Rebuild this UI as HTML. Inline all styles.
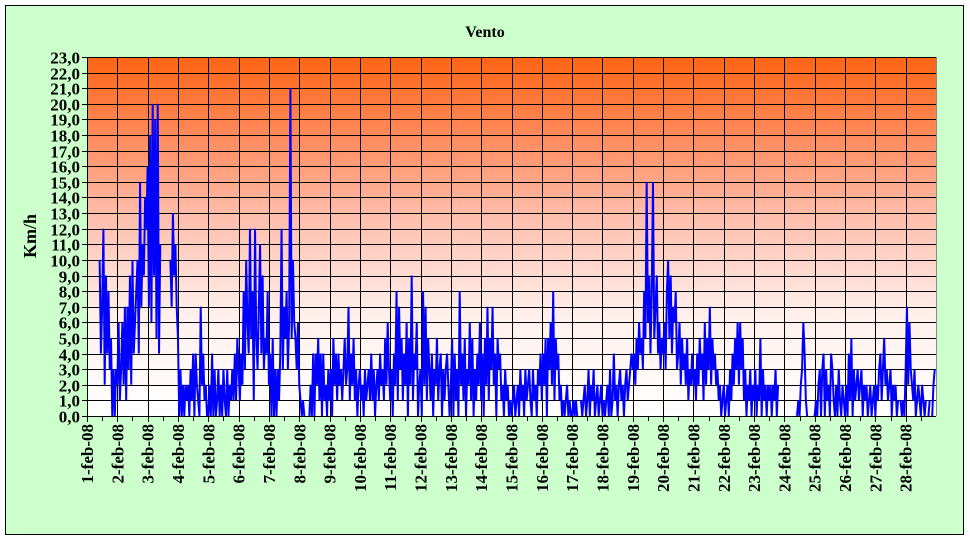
<!DOCTYPE html>
<html><head><meta charset="utf-8"><style>
body{margin:0;background:#fff;}
svg{display:block;font-family:"Liberation Serif",serif;}
</style></head><body>
<svg width="970" height="539" viewBox="0 0 970 539">
<defs>
<linearGradient id="bg" x1="0" y1="0" x2="0" y2="1">
<stop offset="0" stop-color="#ff6414"/>
<stop offset="0.22" stop-color="#ff8a5c"/>
<stop offset="0.45" stop-color="#ffbfae"/>
<stop offset="0.72" stop-color="#fff0ec"/>
<stop offset="1" stop-color="#ffffff"/>
</linearGradient>
</defs>
<rect x="5.5" y="5.5" width="958" height="529" fill="#ccffcc" stroke="#000" stroke-width="1"/>
<text x="485" y="37" text-anchor="middle" font-weight="bold" font-size="16">Vento</text>
<text transform="translate(36,236) rotate(-90)" text-anchor="middle" font-weight="bold" font-size="18">Km/h</text>
<rect x="87" y="57" width="849" height="359" fill="url(#bg)"/>
<g id="grid"></g>
<g id="series"></g>
<line x1="936.5" y1="57" x2="936.5" y2="416" stroke="#888"/>
<g id="axes"></g>
</svg>
<script>
const dayLabels = ["1-feb-08","2-feb-08","3-feb-08","4-feb-08","5-feb-08","6-feb-08","7-feb-08","8-feb-08","9-feb-08","10-feb-08","11-feb-08","12-feb-08","13-feb-08","14-feb-08","15-feb-08","16-feb-08","17-feb-08","18-feb-08","19-feb-08","20-feb-08","21-feb-08","22-feb-08","23-feb-08","24-feb-08","25-feb-08","26-feb-08","27-feb-08","28-feb-08"];
const yTicks = [0,1,2,3,4,5,6,7,8,9,10,11,12,13,14,15,16,17,18,19,20,21,22,23];
const N = null;
const windDays = [
[N,N,N,N,N,N,N,N,N,N,10,4,7,12,2,9,4,8,3,5,0,3,0,3],
[2,6,1,3,6,2,7,1,7,3,9,2,10,4,6,8,10,4,15,7,11,9,14,12],
[16,7,18,6,20,9,19,5,20,4,11,N,N,N,N,N,N,N,10,7,13,9,11,7],
[5,0,3,0,2,0,2,1,2,0,3,1,4,0,4,2,1,0,7,2,4,1,2,0],
[0,2,0,4,0,3,0,1,3,0,2,0,3,1,0,3,0,2,1,3,1,4,1,5],
[3,1,4,2,8,3,10,6,4,12,5,8,1,12,5,3,7,11,4,9,3,5,4,8],
[2,4,0,5,0,3,0,3,1,4,12,3,7,5,8,3,6,21,5,10,6,5,3,6],
[2,1,0,1,0,N,N,N,0,2,0,4,0,4,2,5,1,4,0,4,1,2,0,3],
[1,3,0,5,2,4,1,4,2,3,1,3,5,2,3,7,1,4,2,5,1,3,0,2],
[3,1,2,0,3,1,2,3,1,4,1,3,0,2,3,1,4,2,3,1,5,2,6,3],
[1,3,0,4,2,8,1,7,3,5,1,4,2,6,0,5,2,9,1,4,3,6,0,2],
[3,0,8,2,7,1,5,3,1,4,0,3,2,5,1,3,4,0,3,1,3,4,2,0],
[2,5,0,4,1,3,0,8,2,4,1,5,0,3,2,6,1,5,0,3,1,4,2,6],
[1,4,0,5,2,7,1,5,3,7,2,4,0,5,3,4,1,2,0,3,1,2,0,1],
[0,1,2,0,1,2,0,3,1,2,0,3,1,2,3,1,0,3,1,2,0,3,2,4],
[1,4,2,5,0,5,3,6,2,8,1,5,3,4,1,2,0,1,0,1,2,0,1,0],
[0,1,0,1,0,N,N,1,0,1,2,0,1,3,0,2,1,3,0,1,2,0,1,2],
[0,1,0,1,2,0,3,0,1,4,1,2,0,2,3,1,2,0,2,3,1,2,3,4],
[3,4,2,5,3,6,4,5,3,8,5,15,6,9,4,8,15,5,7,9,4,6,3,5],
[4,6,3,8,10,5,9,4,7,6,8,3,4,6,2,5,3,4,2,5,1,3,2,4],
[2,3,1,4,2,5,3,4,1,6,2,5,3,7,2,5,3,4,2,3,1,2,0,1],
[2,0,1,2,0,3,1,4,2,5,3,6,2,6,3,5,1,3,0,2,1,3,0,2],
[1,3,0,2,1,5,0,3,1,2,0,2,1,2,0,2,1,3,0,2,N,N,N,N],
[N,N,N,N,N,0,N,N,N,N,0,1,0,2,3,6,4,1,0,N,N,0,N,0],
[0,1,0,2,3,0,3,4,0,3,1,2,0,4,3,1,0,2,0,3,1,0,2,1],
[0,2,0,4,1,5,0,3,1,2,3,1,2,3,0,2,1,2,0,1,2,0,1,2],
[0,2,1,3,4,1,3,5,2,3,1,2,3,0,2,1,2,0,1,N,1,0,1,0],
[3,7,2,6,3,2,1,3,0,1,2,1,0,2,1,0,1,N,0,1,N,0,2,3]
];
const NS="http://www.w3.org/2000/svg";
const X0=87,X1=936,Y0=416,Y1=57,YMAX=23,NDAYS=28;
function xs(d){return X0+(d/NDAYS)*(X1-X0);}
function ys(v){return Y0-(v/YMAX)*(Y0-Y1);}
const grid=document.getElementById('grid');
const axes=document.getElementById('axes');
const series=document.getElementById('series');
function mk(tag,attrs,parent){const e=document.createElementNS(NS,tag);for(const k in attrs)e.setAttribute(k,attrs[k]);parent.appendChild(e);return e;}
yTicks.forEach(v=>{
  const y=Math.round(ys(v))+0.5;
  const l=mk('line',{x1:X0-5,x2:X1,y1:y,y2:y,stroke:'#000','stroke-width':1},grid);
  
  
  const t=mk('text',{x:X0-7,y:y+6,'text-anchor':'end','font-size':17,'font-weight':'bold'},axes);
  t.textContent=v.toFixed(1).replace('.',',');
  
  
});
for(let d=0;d<NDAYS;d++){
  const x=Math.round(xs(d))+0.5;
  const l=mk('line',{x1:x,x2:x,y1:Y1,y2:Y0+6,stroke:'#000','stroke-width':1},grid);
  
  
  const xm=Math.round(xs(d+0.5))+0.5;
  const m=mk('line',{x1:xm,x2:xm,y1:Y0,y2:Y0+5,stroke:'#000','stroke-width':1},axes);
  
  
}
dayLabels.forEach((lab,d)=>{
  const x=xs(d);
  const t=mk('text',{transform:`translate(${x+6},${Y0+8}) rotate(-90)`,'text-anchor':'end','font-size':17,'font-weight':'bold'},axes);
  t.textContent=lab;
  
  
});
const ax=mk('line',{x1:X0,x2:X1,y1:Y0+0.5,y2:Y0+0.5,stroke:'#000'},axes);


const ay=mk('line',{x1:X0+0.5,x2:X0+0.5,y1:Y1,y2:Y0,stroke:'#000'},axes);


let d='',pen=false;
windDays.forEach((arr,di)=>{arr.forEach((v,h)=>{
  if(v===null){pen=false;return;}
  const x=xs(di+h/arr.length).toFixed(2),y=ys(v).toFixed(2);
  d+=(pen?'L':'M')+x+' '+y+' ';pen=true;
});});
const p=mk('path',{d:d,fill:'none',stroke:'#0000ff','stroke-width':2,'stroke-linejoin':'bevel'},series);


</script>
</body></html>
